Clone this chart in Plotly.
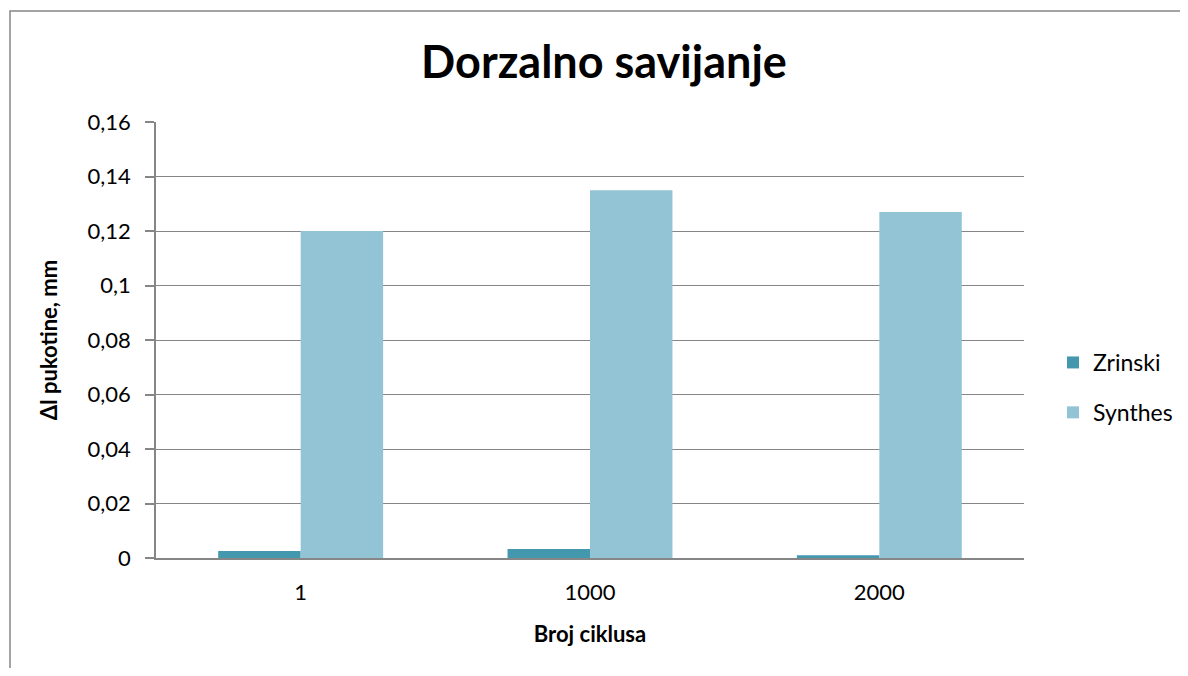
import plotly.graph_objects as go

categories = ["1", "1000", "2000"]
zrinski = [0.0026, 0.0033, 0.0010]
synthes = [0.120, 0.135, 0.127]
ytick_vals = [0, 0.02, 0.04, 0.06, 0.08, 0.10, 0.12, 0.14, 0.16]
ytick_text = ["0", "0,02", "0,04", "0,06", "0,08", "0,1", "0,12", "0,14", "0,16"]

FONT = "Lato"
OFF = 8  # default page body margin
W, H = 1188 - 2 * OFF, 676 - 2 * OFF
# plot area in page pixels: x 156..1024, y 122..558
L = 156 - OFF
T = 122 - OFF
R = W - (1024 - OFF)
B = H - (558 - OFF)


def px_x(p):  # page pixel -> paper fraction
    return (p - OFF - L) / (W - L - R)


def px_y(p):
    return (H - B - (p - OFF)) / (H - T - B)


def cx(p):  # page pixel -> container fraction
    return (p - OFF) / W


def cy(p):
    return 1 - (p - OFF) / H


fig = go.Figure()
fig.add_trace(go.Bar(x=categories, y=zrinski, name="Zrinski", marker_color="#4398AE",
                     marker_line_width=0, legendgroup="a"))
fig.add_trace(go.Bar(x=categories, y=synthes, name="Synthes", marker_color="#93C4D5",
                     marker_line_width=0, legendgroup="b"))

grid = "#868686"
fig.update_layout(
    width=W, height=H,
    margin=dict(l=L, r=R, t=T, b=B, autoexpand=False),
    paper_bgcolor="white", plot_bgcolor="white",
    barmode="group", bargap=0.43, bargroupgap=0,
    font=dict(family=FONT, color="black"),
    title=dict(text="<b>Dorzalno savijanje</b>", x=cx(604), xref="container", xanchor="center",
               y=cy(62), yref="container", yanchor="middle", font=dict(size=45, family=FONT)),
    legend=dict(x=cx(1053), y=cy(341), xref="container", yref="container",
                xanchor="left", yanchor="top",
                font=dict(size=23, family=FONT), tracegroupgap=17, traceorder="grouped",
                bgcolor="rgba(0,0,0,0)"),
    showlegend=True,
)
fig.update_xaxes(type="category", showgrid=False, showline=True, linecolor=grid, linewidth=2,
                 ticks="", tickfont=dict(size=22, family=FONT), ticklabelstandoff=14,
                 title=dict(text="<b>Broj ciklusa</b>", font=dict(size=22, family=FONT), standoff=22))
fig.update_yaxes(range=[0, 0.16], tickvals=ytick_vals, ticktext=ytick_text,
                 showgrid=True, gridcolor=grid, gridwidth=1.3,
                 showline=True, linecolor=grid, linewidth=1.5,
                 ticks="outside", ticklen=9, tickcolor=grid, tickwidth=1.5,
                 tickfont=dict(size=22, family=FONT), ticklabelstandoff=10, zeroline=False,
                 title=dict(text="<b>Δl pukotine, mm</b>", font=dict(size=22, family=FONT), standoff=24))

# outer chart border (partially cropped by the window)
fig.add_shape(type="rect", xref="paper", yref="paper",
              x0=px_x(10), x1=px_x(1230), y0=px_y(730), y1=px_y(11),
              line=dict(color=grid, width=1.5), fillcolor="rgba(0,0,0,0)", layer="below")

fig.write_html("out.html")
